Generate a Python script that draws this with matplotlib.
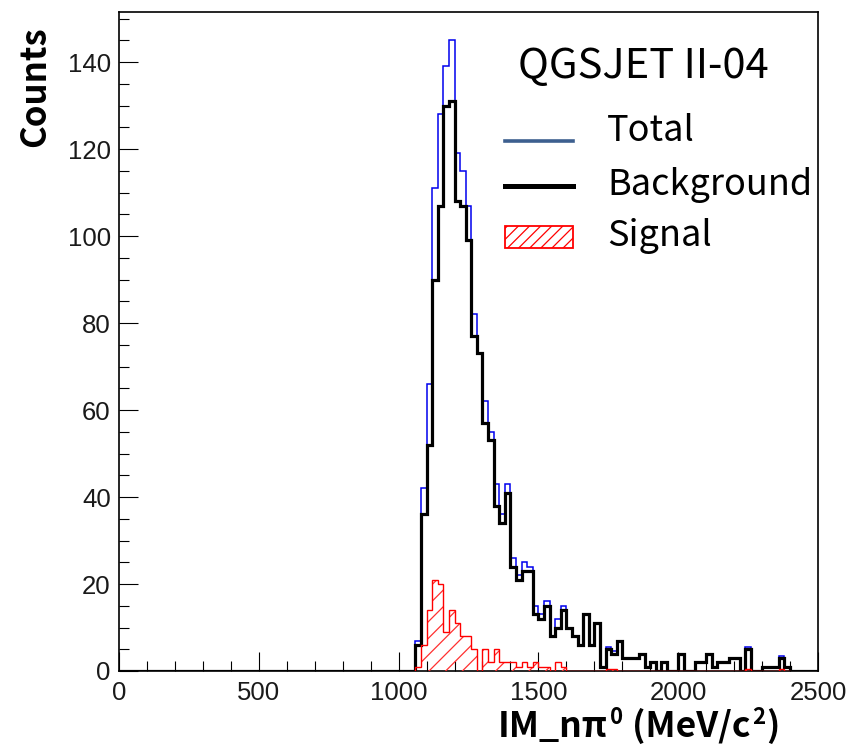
import numpy as np
import matplotlib
matplotlib.use('Agg')
import matplotlib.pyplot as plt
from matplotlib.lines import Line2D
from matplotlib.patches import Rectangle
from matplotlib.ticker import MultipleLocator

# Histogram binning (20 MeV bins over 0-2500), data starts at 1060 MeV
BIN_WIDTH = 20
X_MIN, X_MAX = 0, 2500
FIRST_BIN = 1060

# Background counts per bin, 1060 -> 2380
background = [6, 36, 52, 90, 107, 130, 131, 108, 107, 99,
              77, 73, 57, 53, 38, 34, 41, 24, 21, 23,
              23, 13, 12, 15, 8, 10, 14, 10, 8, 6,
              13, 6, 11, 1, 5, 4, 7, 3, 3, 3,
              4, 1, 2, 0, 2, 0, 0, 4, 0, 0,
              2, 2, 4, 1, 2, 2, 3, 3, 0, 5,
              0, 0, 1, 1, 1, 3, 1]

# Signal counts per bin
signal = [1, 6, 14, 21, 20, 9, 14, 11, 8, 8,
          5, 0, 5, 2, 5, 2, 2, 2, 1, 2,
          1, 2, 1, 1, 0, 2, 1, 0, 0, 0,
          0, 0, 0, 0, 0.5, 0.5, 0, 0, 0, 0,
          0, 0, 0, 0, 0, 0, 0, 0, 0, 0,
          0, 0, 0, 0, 0, 0, 0, 0, 0, 0.5,
          0, 0, 0, 0, 0, 0.5, 0]

# Total counts per bin
total = [7, 42, 66, 111, 128, 139, 145, 119, 115, 107,
         82, 73, 62, 55, 43, 36, 43, 26, 22, 25,
         24, 15, 13, 16, 8, 12, 15, 10, 8, 6,
         13, 6, 11, 1, 5.5, 4.5, 7, 3, 3, 3,
         4, 1, 2, 0, 2, 0, 0, 4, 0, 0,
         2, 2, 4, 1, 2, 2, 3, 3, 0, 5.5,
         0, 0, 1, 1, 1, 3.5, 1]

GENERATOR = 'QGSJET II-04'
LEGEND_LABELS = ['Total', 'Background', 'Signal']
# x title pieces: (text, superscript?)
XTITLE = [('IM_nπ', False), ('0', True), (' (MeV/c', False), ('2', True), (')', False)]

W, H = 859, 748
OVERLAY_FONT = ['Noto Sans CJK KR', 'DejaVu Sans']


def full_range(values, edges):
    """ put the values in a zero array covering the whole axis """
    arr = np.zeros(len(edges) - 1)
    i0 = (FIRST_BIN - X_MIN) // BIN_WIDTH
    arr[i0:i0 + len(values)] = values
    return arr


def fx(px):
    return px / W


def fy(py):
    return 1 - py / H


edges = np.arange(X_MIN, X_MAX + BIN_WIDTH, BIN_WIDTH)
i0 = (FIRST_BIN - X_MIN) // BIN_WIDTH
sig_edges = edges[i0:i0 + len(signal) + 1]

plt.rcParams['hatch.linewidth'] = 0.9

fig = plt.figure(figsize=(W / 100, H / 100), dpi=100)
ax = fig.add_axes([fx(119), fy(671), fx(818) - fx(119), fy(12) - fy(671)])

# histograms, ROOT-like step lines
ax.stairs(full_range(total, edges), edges, color='#0000ee', linewidth=1.1, zorder=2)
ax.stairs(full_range(background, edges), edges, color='black', linewidth=2.3, zorder=3)
ax.stairs(signal, sig_edges, fill=True, facecolor='none', edgecolor='#ff3030',
          hatch='//', linewidth=0, zorder=4)
ax.stairs(signal, sig_edges, color='red', linewidth=1.0, zorder=5)

ax.set_xlim(X_MIN, X_MAX)
ax.set_ylim(0, 151.5)

ax.xaxis.set_major_locator(MultipleLocator(500))
ax.xaxis.set_minor_locator(MultipleLocator(100))
ax.yaxis.set_major_locator(MultipleLocator(20))
ax.yaxis.set_minor_locator(MultipleLocator(5))
ax.tick_params(which='both', direction='in', top=False, right=False, width=0.8)
ax.tick_params(which='major', length=14)
ax.tick_params(which='minor', length=7)
ax.tick_params(axis='y', pad=6)
ax.tick_params(axis='x', pad=7)
for lab in ax.get_xticklabels() + ax.get_yticklabels():
    lab.set_fontfamily('Liberation Sans')
    lab.set_fontsize(18.5)
    lab.set_color('#1a1a1a')
for sp in ax.spines.values():
    sp.set_linewidth(1.2)

# axis titles
fig.text(fx(35), fy(87), 'Counts', rotation=90, fontsize=25, fontweight='bold',
         family=OVERLAY_FONT, ha='center', va='center')

# x title written piece by piece so the superscripts sit like the original
renderer = fig.canvas.get_renderer()
xpos = 498
for txt, sup in XTITLE:
    if sup:
        t = fig.text(fx(xpos + 1), fy(724), txt, fontsize=16, fontweight='bold',
                     family=OVERLAY_FONT, ha='left', va='baseline')
    else:
        t = fig.text(fx(xpos), fy(737), txt, fontsize=25.5, fontweight='bold',
                     family=OVERLAY_FONT, ha='left', va='baseline')
    xpos = t.get_window_extent(renderer).x1 + 1

# generator name and legend
fig.text(fx(643), fy(66), GENERATOR, fontsize=30, family=OVERLAY_FONT,
         ha='center', va='center')

fig.add_artist(Line2D([fx(505), fx(573)], [fy(141), fy(141)], color='#3d5f8f',
                      linewidth=2.6, transform=fig.transFigure))
fig.add_artist(Line2D([fx(505), fx(573)], [fy(186), fy(186)], color='black',
                      linewidth=3.6, transform=fig.transFigure))
fig.add_artist(Rectangle((fx(505), fy(248)), fx(573) - fx(505), fy(226) - fy(248),
                         facecolor='none', edgecolor='red', hatch='///',
                         linewidth=1.3, transform=fig.transFigure))

for label, ypx in zip(LEGEND_LABELS, [131, 185, 236]):
    fig.text(fx(607), fy(ypx), label, fontsize=26, family=OVERLAY_FONT,
             ha='left', va='center')

fig.savefig('out.png', dpi=100, facecolor='white')
